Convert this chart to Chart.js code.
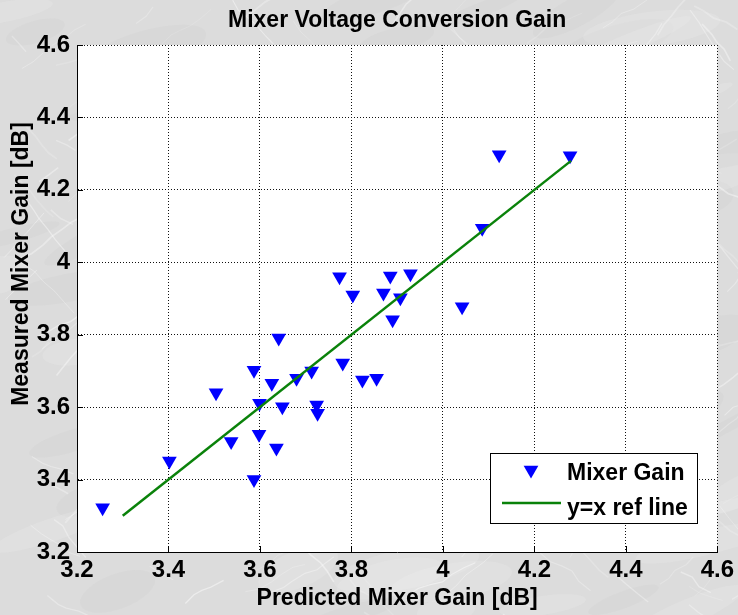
<html lang="en">
<head>
    <meta charset="utf-8" />
    <title>Mixer Voltage Conversion Gain</title>
    <script src="https://cdn.jsdelivr.net/npm/chart.js@4.4.1/dist/chart.umd.min.js"></script>
    <style>
        * {
  padding: 0;
  margin: 0;
  box-sizing: border-box;
}
body {
  width: 738px;
  height: 615px;
  background: #dcdcdc;
  overflow: hidden;
}
#chart {
  display: block;
}
    </style>
</head>
<body>
    <canvas id="chart" width="738" height="615"></canvas>

<script>
    // Predicted vs measured mixer gain [dB]
    const predictedGain = [3.256, 3.402, 3.504, 3.537, 3.587, 3.587, 3.599, 3.598, 3.626, 3.636,
        3.641, 3.649, 3.680, 3.713, 3.724, 3.726, 3.774, 3.781, 3.803, 3.824,
        3.855, 3.870, 3.885, 3.890, 3.907, 3.929, 4.042, 4.086, 4.123, 4.278];
    const measuredGain = [3.322, 3.451, 3.640, 3.505, 3.400, 3.702, 3.611, 3.525, 3.666, 3.487,
        3.791, 3.601, 3.680, 3.700, 3.606, 3.583, 3.960, 3.722, 3.910, 3.675,
        3.680, 3.915, 3.962, 3.841, 3.902, 3.968, 3.877, 4.094, 4.297, 4.294];

    // Reference line y = x
    const refLineX = [3.3, 4.28];

    // Tick labels
    const xTicks = [3.2, 3.4, 3.6, 3.8, 4, 4.2, 4.4, 4.6];
    const yTicks = [3.2, 3.4, 3.6, 3.8, 4, 4.2, 4.4, 4.6];

    const chartTitle = "Mixer Voltage Conversion Gain";
    const xTitle = "Predicted Mixer Gain [dB]";
    const yTitle = "Measured Mixer Gain [dB]";
    const seriesNames = ["Mixer Gain", "y=x ref line"];
    const markerColor = "#0000ff";
    const lineColor = "#0a820a";
    const fontFamily = "'Liberation Sans', Arial, sans-serif";

    const scatterPoints = predictedGain.map((x, i) => ({ x: x, y: measuredGain[i] }));
    const linePoints = refLineX.map((v) => ({ x: v, y: v }));

    // Marble-ish gray backdrop + white plot box
    const backdrop = {
        id: "backdrop",
        beforeDraw(chart) {
            const ctx = chart.ctx;
            const w = chart.width, h = chart.height;
            ctx.save();
            ctx.fillStyle = "#dcdcdc";
            ctx.fillRect(0, 0, w, h);
            // deterministic soft patches and light veins
            let seed = 11;
            const rnd = () => {
                seed = (seed * 16807) % 2147483647;
                return seed / 2147483647;
            };
            for (let i = 0; i < 90; i++) {
                const x = rnd() * w, y = rnd() * h;
                const shade = rnd() < 0.5 ? "rgba(245,245,245,0.18)" : "rgba(190,190,190,0.12)";
                ctx.fillStyle = shade;
                ctx.beginPath();
                ctx.ellipse(x, y, 25 + rnd() * 50, 6 + rnd() * 14, -0.5 + rnd() * 0.4, 0, Math.PI * 2);
                ctx.fill();
            }
            for (let i = 0; i < 220; i++) {
                let x = rnd() * w, y = rnd() * h;
                const ang = (rnd() < 0.7 ? 0.6 : -0.7) + (rnd() - 0.5) * 0.5;
                ctx.beginPath();
                ctx.moveTo(x, y);
                const steps = 2 + Math.floor(rnd() * 5);
                for (let k = 0; k < steps; k++) {
                    x += Math.cos(ang) * 12 + (rnd() - 0.5) * 6;
                    y -= Math.sin(ang) * 12 + (rnd() - 0.5) * 6;
                    ctx.lineTo(x, y);
                }
                ctx.strokeStyle = "rgba(255,255,255," + (0.15 + rnd() * 0.3).toFixed(2) + ")";
                ctx.lineWidth = 0.6 + rnd() * 1.2;
                ctx.stroke();
            }
            const a = chart.chartArea;
            ctx.fillStyle = "#ffffff";
            ctx.fillRect(a.left, a.top, a.right - a.left, a.bottom - a.top);
            ctx.restore();
        },
        afterDraw(chart) {
            const ctx = chart.ctx;
            const a = chart.chartArea;
            const xs = chart.scales.x, ys = chart.scales.y;
            ctx.save();
            // small inside tick marks on left and bottom axes
            ctx.strokeStyle = "#000";
            ctx.lineWidth = 1;
            ctx.beginPath();
            xTicks.forEach((t) => {
                const px = Math.round(xs.getPixelForValue(t)) + 0.5;
                ctx.moveTo(px, a.bottom);
                ctx.lineTo(px, a.bottom - 6);
            });
            yTicks.forEach((t) => {
                const py = Math.round(ys.getPixelForValue(t)) + 0.5;
                ctx.moveTo(a.left, py);
                ctx.lineTo(a.left + 6, py);
            });
            ctx.stroke();

            ctx.fillStyle = "#000";
            ctx.font = "bold 23px " + fontFamily;
            ctx.textAlign = "center";
            ctx.textBaseline = "middle";
            // chart title, centred over the axes
            ctx.fillText(chartTitle, (a.left + a.right) / 2, 21);

            // y axis title
            ctx.translate(22, 264);
            ctx.rotate(-Math.PI / 2);
            ctx.fillText(yTitle, 0, 0);
            ctx.setTransform(1, 0, 0, 1, 0, 0);

            // legend box
            const bx = 490.5, by = 453.5, bw = 207, bh = 70;
            ctx.fillStyle = "#ffffff";
            ctx.fillRect(bx, by, bw, bh);
            ctx.strokeStyle = "#000";
            ctx.lineWidth = 1;
            ctx.strokeRect(bx, by, bw, bh);

            // marker sample
            const mx = 531, my = 470, r = 8.5;
            ctx.fillStyle = markerColor;
            ctx.beginPath();
            ctx.moveTo(mx - r * 0.866, my - r * 0.5);
            ctx.lineTo(mx + r * 0.866, my - r * 0.5);
            ctx.lineTo(mx, my + r);
            ctx.closePath();
            ctx.fill();

            // line sample
            ctx.strokeStyle = lineColor;
            ctx.lineWidth = 2.5;
            ctx.beginPath();
            ctx.moveTo(502, 503);
            ctx.lineTo(561, 503);
            ctx.stroke();

            ctx.fillStyle = "#000";
            ctx.font = "bold 23px " + fontFamily;
            ctx.textAlign = "left";
            ctx.textBaseline = "middle";
            ctx.fillText(seriesNames[0], 567, 474);
            ctx.fillText(seriesNames[1], 567, 509);
            ctx.restore();
        },
    };

    const tickFont = { family: fontFamily, size: 24, weight: "bold" };

    new Chart(document.getElementById("chart"), {
        type: "scatter",
        plugins: [backdrop],
        data: {
            datasets: [
                {
                    label: seriesNames[0],
                    data: scatterPoints,
                    pointStyle: "triangle",
                    rotation: 180,
                    pointRadius: 8.5,
                    pointHoverRadius: 8.5,
                    pointBackgroundColor: markerColor,
                    pointBorderColor: markerColor,
                    pointBorderWidth: 0,
                    order: 2,
                },
                {
                    type: "line",
                    label: seriesNames[1],
                    data: linePoints,
                    borderColor: lineColor,
                    borderWidth: 2.5,
                    pointRadius: 0,
                    fill: false,
                    order: 1,
                },
            ],
        },
        options: {
            responsive: false,
            animation: false,
            layout: { padding: { top: 45, right: 19, bottom: 0, left: 0 } },
            plugins: {
                legend: { display: false },
                tooltip: { enabled: false },
                title: { display: false },
            },
            scales: {
                x: {
                    type: "linear",
                    min: 3.2,
                    max: 4.6,
                    afterFit: (s) => { s.height = 63; },
                    afterBuildTicks: (s) => { s.ticks = xTicks.map((v) => ({ value: v })); },
                    ticks: {
                        color: "#000",
                        font: tickFont,
                        padding: 4,
                        autoSkip: false,
                        maxRotation: 0,
                        callback: (v) => String(v),
                    },
                    grid: {
                        color: "#111",
                        lineWidth: 1,
                        drawTicks: false,
                    },
                    border: { display: true, color: "#000", width: 1, dash: [1, 2] },
                    title: {
                        display: true,
                        text: xTitle,
                        color: "#000",
                        font: { family: fontFamily, size: 23, weight: "bold" },
                        padding: { top: 0, bottom: 3 },
                    },
                },
                y: {
                    type: "linear",
                    min: 3.2,
                    max: 4.6,
                    afterFit: (s) => { s.width = 77; },
                    afterBuildTicks: (s) => { s.ticks = yTicks.map((v) => ({ value: v })); },
                    ticks: {
                        color: "#000",
                        font: tickFont,
                        padding: 7,
                        autoSkip: false,
                        callback: (v) => String(v),
                    },
                    grid: {
                        color: "#111",
                        lineWidth: 1,
                        drawTicks: false,
                    },
                    border: { display: true, color: "#000", width: 1, dash: [1, 2] },
                },
            },
        },
    });
</script>
</body>
</html>
